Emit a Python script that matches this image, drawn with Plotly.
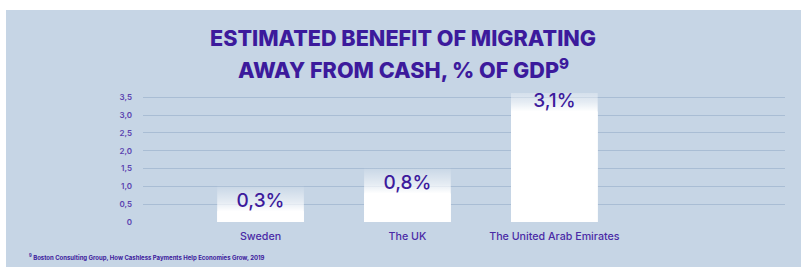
import plotly.graph_objects as go

categories = ["Sweden", "The UK", "The United Arab Emirates"]
values = [0.3, 0.8, 3.1]
value_labels = ["0,3%", "0,8%", "3,1%"]
y_tick_values = [0, 0.5, 1.0, 1.5, 2.0, 2.5, 3.0, 3.5]
y_tick_labels = ["0", "0,5", "1,0", "1,5", "2,0", "2,5", "3,0", "3,5"]
title_lines = ["ESTIMATED BENEFIT OF MIGRATING", "AWAY FROM CASH, % OF GDP<sup>9</sup>"]
footnote_text = "<sup>9</sup> Boston Consulting Group, How Cashless Payments Help Economies Grow, 2019"

W, H = 801, 267
ML, MR, MT, MB = 143, 16, 93, 45
PW, PH = W - ML - MR, H - MT - MB

BG = "#c6d5e5"
GRID = "#a9bdd4"
PURPLE = "#3c1a9c"
TICK_PURPLE = "#5b43b0"
FONT = "Inter"
BAR_W = 0.59
FADE = 0.75

positions = list(range(len(categories)))


def px_x(p):
    return (p - ML) / PW


def px_y(p):
    return (MT + PH - p) / PH


fig = go.Figure()

# solid bars
fig.add_trace(go.Bar(x=positions, y=values, width=BAR_W,
                     marker=dict(color="white", line=dict(width=0)),
                     hoverinfo="skip"))

# fading extension above each bar (vertical gradient fill, solid below the value)
for pos, v in zip(positions, values):
    x0, x1 = pos - BAR_W / 2, pos + BAR_W / 2
    fig.add_trace(go.Scatter(
        x=[x0, x1, x1, x0, x0], y=[0, 0, v + FADE, v + FADE, 0],
        mode="lines", line=dict(width=0), fill="toself",
        fillgradient=dict(type="vertical", start=v, stop=v + FADE,
                          colorscale=[[0, "rgba(255,255,255,1)"],
                                      [0.35, "rgba(255,255,255,0.55)"],
                                      [1, "rgba(255,255,255,0)"]]),
        hoverinfo="skip"))

# value labels
fig.add_trace(go.Scatter(x=positions, y=values, mode="text", text=value_labels,
                         textposition="top center",
                         textfont=dict(family=FONT, size=19, color=PURPLE, weight=500),
                         hoverinfo="skip", cliponaxis=False))

title_annotations = [
    dict(text=line, xref="paper", yref="paper",
         x=px_x(403), y=px_y(38 + 31 * k), xanchor="center", yanchor="middle",
         showarrow=False, align="center",
         font=dict(family=FONT, size=21.6, color=PURPLE, weight=800))
    for k, line in enumerate(title_lines)
]

fig.update_layout(
    width=W, height=H,
    margin=dict(l=ML, r=MR, t=MT, b=MB),
    paper_bgcolor="white",
    plot_bgcolor="rgba(0,0,0,0)",
    barmode="overlay",
    showlegend=False,
    xaxis=dict(range=[-0.8, 3.57], tickvals=positions, ticktext=categories,
               showgrid=False, zeroline=False, showline=False,
               ticks="", ticklabelstandoff=6,
               tickfont=dict(family=FONT, size=10.7, color="#4a2aa6", weight=500),
               fixedrange=True),
    yaxis=dict(range=[0, 3.62], tickvals=y_tick_values, ticktext=y_tick_labels,
               showgrid=True, gridcolor=GRID, gridwidth=1, zeroline=False,
               showline=False, ticks="", ticklabelstandoff=10,
               tickfont=dict(family=FONT, size=8, color=TICK_PURPLE, weight=600),
               fixedrange=True),
    shapes=[dict(type="rect", xref="paper", yref="paper", layer="below",
                 x0=px_x(6), x1=px_x(W), y0=px_y(H), y1=px_y(10),
                 fillcolor=BG, line=dict(width=0))],
    annotations=title_annotations + [
        dict(text=footnote_text, xref="paper", yref="paper",
             x=px_x(27), y=px_y(257), xanchor="left", yanchor="middle",
             showarrow=False,
             font=dict(family=FONT, size=6, color=PURPLE, weight=700)),
    ],
)

fig.write_html("out.html", config={"displayModeBar": False},
               post_script="document.body.style.margin='0';")
